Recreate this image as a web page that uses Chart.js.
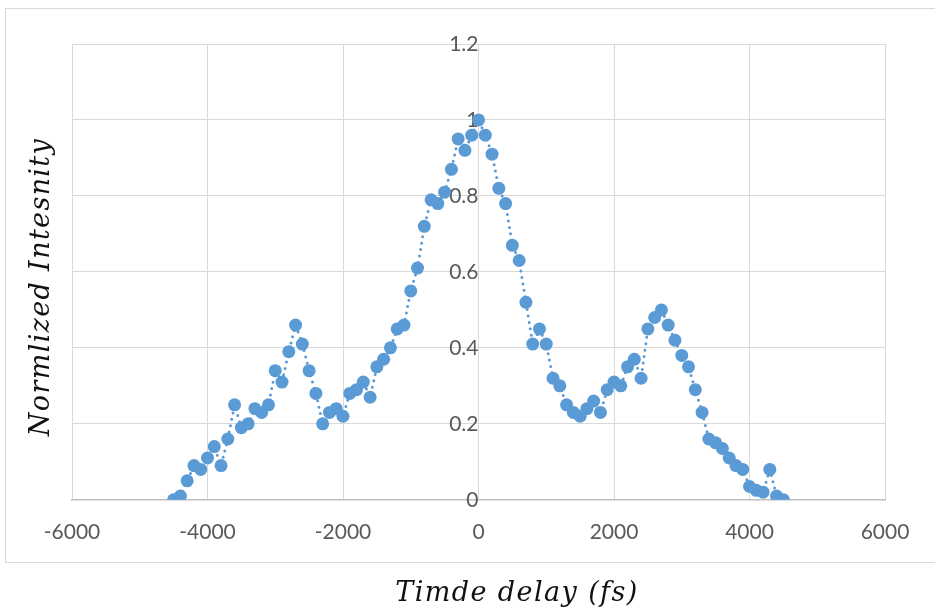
<!DOCTYPE html>
<html>
<head>
<meta charset="utf-8">
<script src="https://cdn.jsdelivr.net/npm/chart.js@4.4.1/dist/chart.umd.min.js"></script>
<style>
  html, body { margin: 0; padding: 0; background: #fff; }
  #wrap { width: 935px; height: 615px; position: relative; }
</style>
</head>
<body>
<div id="wrap"><canvas id="myChart" width="935" height="615"></canvas></div>
<script>
// delay steps of 100 fs, -4500 .. 4500
const delays = [];
for (let t = -4500; t <= 4500; t += 100) delays.push(t);

const intensity = [
    0.00, 0.01, 0.05, 0.09, 0.08, 0.11, 0.14, 0.09, 0.16, 0.25,
    0.19, 0.20, 0.24, 0.23, 0.25, 0.34, 0.31, 0.39, 0.46, 0.41,
    0.34, 0.28, 0.20, 0.23, 0.24, 0.22, 0.28, 0.29, 0.31, 0.27,
    0.35, 0.37, 0.40, 0.45, 0.46, 0.55, 0.61, 0.72, 0.79, 0.78,
    0.81, 0.87, 0.95, 0.92, 0.96, 1.00, 0.96, 0.91, 0.82, 0.78,
    0.67, 0.63, 0.52, 0.41, 0.45, 0.41, 0.32, 0.30, 0.25, 0.23,
    0.22, 0.24, 0.26, 0.23, 0.29, 0.31, 0.30, 0.35, 0.37, 0.32,
    0.45, 0.48, 0.50, 0.46, 0.42, 0.38, 0.35, 0.29, 0.23, 0.16,
    0.15, 0.135, 0.11, 0.09, 0.08, 0.035, 0.025, 0.02, 0.08, 0.01,
    0.00
];

const xTitle = 'Timde delay (fs)';
const yTitle = 'Normlized Intesnity';

const blue = '#5B9BD5';
const gridGray = '#d9d9d9';
const labelGray = '#595959';

// outer frame + axis titles in italic serif
const decorations = {
    id: 'decorations',
    beforeDraw(chart) {
        const c = chart.ctx;
        c.save();
        c.fillStyle = '#fff';
        c.fillRect(0, 0, chart.width, chart.height);
        c.strokeStyle = gridGray;
        c.lineWidth = 1;
        c.strokeRect(5.5, 8.5, 960, 554);
        c.restore();
    },
    afterDraw(chart) {
        const c = chart.ctx;
        const fit = (text, width) => {
            c.letterSpacing = '0px';
            const w = c.measureText(text).width;
            c.letterSpacing = ((width - w) / (text.length - 1)) + 'px';
        };
        c.save();
        c.fillStyle = '#111';
        c.font = 'italic 27px "DejaVu Serif"';
        c.textAlign = 'center';
        c.textBaseline = 'alphabetic';
        fit(xTitle, 242);
        c.fillText(xTitle, 517, 601);

        c.translate(49, 287);
        c.rotate(-Math.PI / 2);
        fit(yTitle, 297);
        c.fillText(yTitle, 0, 0);
        c.restore();
    }
};

const ctx = document.getElementById('myChart');

new Chart(ctx, {
    type: 'scatter',
    data: {
        datasets: [{
            data: delays.map((t, i) => ({ x: t, y: intensity[i] })),
            showLine: true,
            borderColor: blue,
            borderWidth: 3,
            borderDash: [0, 6.5],
            borderCapStyle: 'round',
            backgroundColor: blue,
            pointRadius: 6.5,
            pointBorderWidth: 0,
            tension: 0
        }]
    },
    options: {
        responsive: false,
        animation: false,
        events: [],
        layout: { padding: { left: 72, right: 50, top: 44, bottom: 50 } },
        plugins: {
            legend: { display: false },
            tooltip: { enabled: false }
        },
        scales: {
            x: {
                type: 'linear',
                min: -6000,
                max: 6000,
                grid: { color: gridGray, lineWidth: 1, drawTicks: false },
                border: { color: '#bfbfbf', width: 1.5 },
                ticks: {
                    stepSize: 1000,
                    padding: 20,
                    color: labelGray,
                    font: { family: 'Lato', size: 21 },
                    maxRotation: 0,
                    autoSkip: false,
                    callback: (v) => (v % 2000 === 0 ? String(v) : null)
                }
            },
            y: {
                position: { x: 0 },
                min: 0,
                max: 1.2,
                grid: { color: gridGray, lineWidth: 1, drawTicks: false },
                border: { color: gridGray, width: 1 },
                ticks: {
                    stepSize: 0.2,
                    padding: 22,
                    color: labelGray,
                    font: { family: 'Lato', size: 21 },
                    callback: (v) => String(Number(v.toFixed(1)))
                }
            }
        }
    },
    plugins: [decorations]
});
</script>
</body>
</html>
